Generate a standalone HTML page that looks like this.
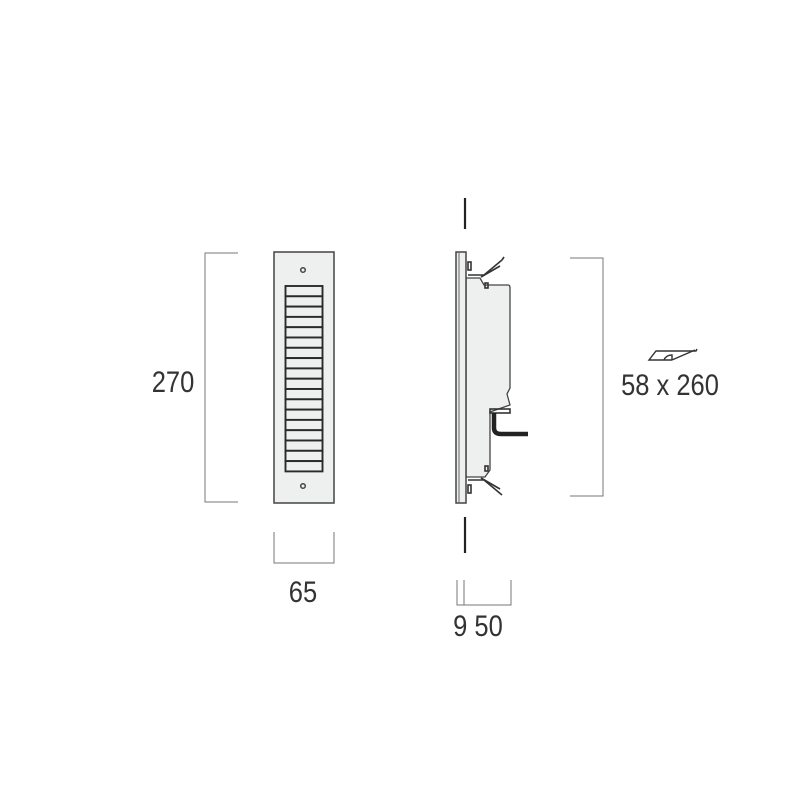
<!DOCTYPE html>
<html><head><meta charset="utf-8"><style>
html,body{margin:0;padding:0;background:#fff}
svg{display:block}
text{font-family:"Liberation Sans Narrow","Liberation Sans",sans-serif;fill:#333}
</style></head><body>
<svg width="800" height="800" viewBox="0 0 800 800" xmlns="http://www.w3.org/2000/svg">
<g fill="none" stroke="#777" stroke-width="1">
<polyline points="238,253 205,253 205,502 238,502"/>
<polyline points="274,532 274,563 334,563 334,532"/>
<polyline points="457,580 457,605 511,605 511,580"/>
<line x1="464" y1="580" x2="464" y2="605"/>
<polyline points="570,258 603,258 603,496 570,496"/>
</g>
<g stroke="#222" stroke-width="2.2">
<line x1="465" y1="198" x2="465" y2="229"/>
<line x1="465" y1="517" x2="465" y2="553"/>
</g>
<rect x="274" y="252" width="60" height="251" fill="#eeefef" stroke="#444" stroke-width="1.5"/>
<circle cx="303" cy="270" r="2.3" fill="none" stroke="#444" stroke-width="1.5"/>
<circle cx="303" cy="486" r="2.3" fill="none" stroke="#444" stroke-width="1.5"/>
<g fill="#eeefef" stroke="#2a2a2a" stroke-width="1.9">
<rect x="285.5" y="286" width="37" height="10.3"/><rect x="285.5" y="296.3" width="37" height="10.3"/>
<rect x="285.5" y="306.6" width="37" height="10.3"/><rect x="285.5" y="316.9" width="37" height="10.3"/>
<rect x="285.5" y="327.2" width="37" height="10.3"/><rect x="285.5" y="337.5" width="37" height="10.3"/>
<rect x="285.5" y="347.8" width="37" height="10.3"/><rect x="285.5" y="358.1" width="37" height="10.3"/>
<rect x="285.5" y="368.4" width="37" height="10.3"/><rect x="285.5" y="378.7" width="37" height="10.3"/>
<rect x="285.5" y="389" width="37" height="10.3"/><rect x="285.5" y="399.3" width="37" height="10.3"/>
<rect x="285.5" y="409.6" width="37" height="10.3"/><rect x="285.5" y="419.9" width="37" height="10.3"/>
<rect x="285.5" y="430.2" width="37" height="10.3"/><rect x="285.5" y="440.5" width="37" height="10.3"/>
<rect x="285.5" y="450.8" width="37" height="10.3"/><rect x="285.5" y="461.1" width="37" height="10.3"/>
</g>
<path d="M466,278 L480,278 L484,285 L508,285 Q510,285 510,288 L510,388 L507,394 L510,405 L490,412 L490,470 L485,477 L466,477 Z" fill="#eeefef" stroke="#444" stroke-width="1.3"/>
<rect x="456" y="252" width="10" height="251" fill="#eeefef" stroke="#444" stroke-width="1.5"/>
<line x1="459" y1="253" x2="459" y2="502" stroke="#666" stroke-width="1"/>
<g fill="none" stroke="#333" stroke-width="1.6">
<polyline points="468,275 484,275 502,260"/><line x1="481" y1="277" x2="500" y2="266"/>
<polyline points="502,260 504,257"/>
<polyline points="468,480 484,480 502,495"/><line x1="481" y1="478" x2="500" y2="489"/>
<rect x="468" y="262" width="3" height="8"/><rect x="468" y="485" width="3" height="8"/>
<rect x="485" y="283" width="3" height="5"/><rect x="485" y="466" width="3" height="5"/>
<rect x="490" y="409" width="20" height="4"/>
</g>
<path d="M494,413 L494,428 Q494,434 501,434 L528,434" fill="none" stroke="#222" stroke-width="4.5"/>
<text x="173" y="392" font-size="30" text-anchor="middle" transform="translate(173 0) scale(0.85 1) translate(-173 0)">270</text>
<text x="303" y="602" font-size="30" text-anchor="middle" transform="translate(303 0) scale(0.85 1) translate(-303 0)">65</text>
<text x="478" y="636" font-size="30" text-anchor="middle" transform="translate(478 0) scale(0.85 1) translate(-478 0)">9 50</text>
<text x="670" y="395" font-size="30" text-anchor="middle" transform="translate(670 0) scale(0.85 1) translate(-670 0)">58 x 260</text>
<g fill="none" stroke="#333" stroke-width="1.4">
<polyline points="697,349 696,351 656,351 649,360 672,360"/>
<path d="M664,360 Q666,355 672,355 L672,360"/>
<line x1="672" y1="360" x2="695" y2="350"/>
</g>
</svg>
</body></html>
